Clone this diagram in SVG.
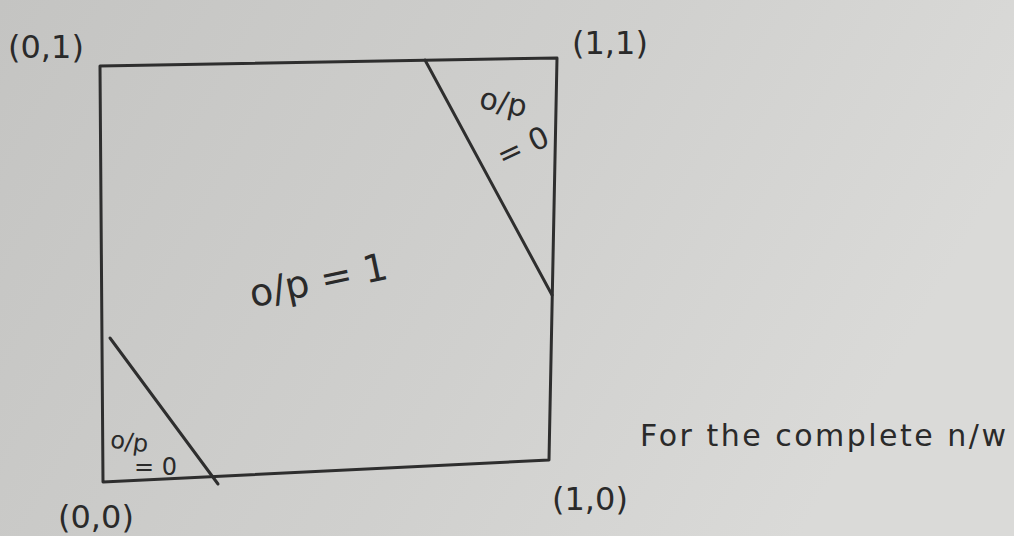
<svg xmlns="http://www.w3.org/2000/svg" width="1014" height="536" viewBox="0 0 1014 536">
  <defs>
    <linearGradient id="paper" x1="0" y1="0" x2="1" y2="0.3">
      <stop offset="0" stop-color="#c4c4c2"/>
      <stop offset="0.6" stop-color="#d0d0ce"/>
      <stop offset="1" stop-color="#dadad8"/>
    </linearGradient>
    <style>
      .ink { fill: none; stroke: #2e2e2e; stroke-width: 3; stroke-linecap: round; stroke-linejoin: round; }
      .hw { font-family: "DejaVu Sans", "Liberation Sans", sans-serif; fill: #2a2a2a; }
    </style>
  </defs>
  <rect width="1014" height="536" fill="url(#paper)"/>

  <g id="square">
    <path class="ink" d="M100,66 L557,58 L549,460 L103,482 Z"/>
  </g>

  <g id="connectors">
    <path class="ink" d="M425,60 L552,295"/>
    <path class="ink" d="M110,338 L218,484"/>
  </g>

  <g id="region-main">
    <text class="hw" x="248" y="295" font-size="38" transform="rotate(-12 310 280)">o/p = 1</text>
  </g>
  <g id="region-top-right">
    <text class="hw" x="478" y="112" font-size="30" transform="rotate(12 500 110)">o/p</text>
    <text class="hw" x="496" y="160" font-size="30" transform="rotate(-25 515 148)">= 0</text>
  </g>
  <g id="region-bottom-left">
    <text class="hw" x="110" y="450" font-size="24" transform="rotate(8 130 445)">o/p</text>
    <text class="hw" x="134" y="475" font-size="24">= 0</text>
  </g>

  <g id="corner-labels">
    <text class="hw" x="8" y="58" font-size="32">(0,1)</text>
    <text class="hw" x="572" y="54" font-size="32">(1,1)</text>
    <text class="hw" x="58" y="528" font-size="32">(0,0)</text>
    <text class="hw" x="552" y="510" font-size="32">(1,0)</text>
  </g>

  <g id="note">
    <text class="hw" x="640" y="446" font-size="30" textLength="366" lengthAdjust="spacing">For the complete n/w</text>
  </g>
</svg>
